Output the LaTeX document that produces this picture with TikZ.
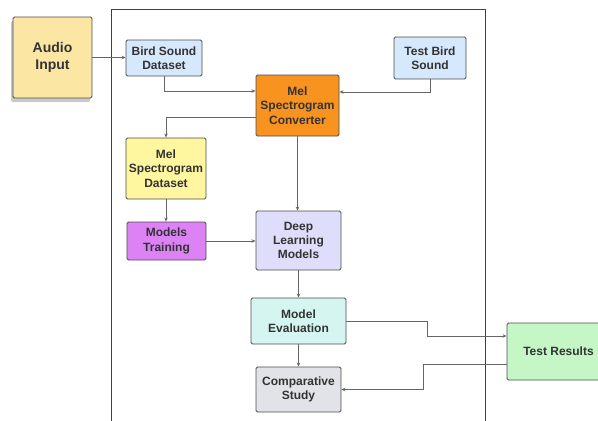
\documentclass[tikz,border=0pt]{standalone}
\usepackage{fontspec}
\setmainfont{Liberation Sans}
\usetikzlibrary{arrows.meta,shadows}
\definecolor{audioC}{HTML}{FBE6A4}
\definecolor{blueC}{HTML}{D6E8FC}
\definecolor{orangeC}{HTML}{F8931F}
\definecolor{yellowC}{HTML}{FFF6A0}
\definecolor{violetC}{HTML}{DC82F5}
\definecolor{lavenderC}{HTML}{DEDEFA}
\definecolor{cyanC}{HTML}{D5F6F0}
\definecolor{greyC}{HTML}{E1E3E8}
\definecolor{greenC}{HTML}{C5F6C6}
\tikzset{
BOX/.style={draw=black!70, fill=#1, line width=0.9pt, rounded corners=1.5pt, align=center, text=black!80, inner sep=0pt, font=\bfseries\fontsize{12}{14.3}\selectfont},
BOX/.default = white,
LINK/.style={draw=black!60, line width=0.8pt, -{Stealth[length=4pt,width=3.5pt]}},
FRAME/.style={draw=black!75, line width=1pt},
}

\begin{document}
\begin{tikzpicture}[x=1pt, y=-1pt] %bird sound pipeline
	\useasboundingbox (0,0) rectangle (598,421);
	\path[FRAME] (111,9) rectangle (485,440);
	\node[BOX=audioC, minimum width=79pt, minimum height=81pt, font=\bfseries\fontsize{14}{17.3}\selectfont, drop shadow={shadow xshift=-2pt, shadow yshift=-4pt, opacity=0.35, fill=black!60}] (audio) at (52.5,57.5) {Audio\\Input};
	\node[BOX=blueC, minimum width=76pt, minimum height=36pt] (birddata) at (164,58) {Bird Sound\\Dataset};
	\node[BOX=blueC, minimum width=72pt, minimum height=42pt] (testbird) at (430,58) {Test Bird\\Sound};
	\node[BOX=orangeC, minimum width=83pt, minimum height=61pt] (converter) at (297.5,105.5) {Mel\\Spectrogram\\Converter};
	\node[BOX=yellowC, minimum width=80pt, minimum height=61pt] (meldata) at (166,168.5) {Mel\\Spectrogram\\Dataset};
	\node[BOX=violetC, minimum width=79pt, minimum height=38pt] (training) at (166.5,241) {Models\\Training};
	\node[BOX=lavenderC, minimum width=85pt, minimum height=59pt] (deep) at (298.5,240.5) {Deep\\Learning\\Models};
	\node[BOX=cyanC, minimum width=95pt, minimum height=46pt] (evaluation) at (298.5,321) {Model\\Evaluation};
	\node[BOX=greyC, minimum width=85pt, minimum height=45pt] (comparative) at (298.5,389.5) {Comparative\\Study};
	\node[BOX=greenC, minimum width=103pt, minimum height=57pt] (results) at (558.5,351.5) {Test Results};
	\path[LINK] (audio.east) -- (audio.east -| birddata.west);
	\path[LINK] (birddata.south) |- ([yshift=14.5pt]converter.west);
	\path[LINK] (testbird.south) |- ([yshift=13.5pt]converter.east);
	\path[LINK] ([yshift=-11.5pt]converter.west) -| (meldata.north);
	\path[LINK] (converter.south) -- (converter.south |- deep.north);
	\path[LINK] (meldata.south) -- (meldata.south |- training.north);
	\path[LINK] (training.east) -- (training.east -| deep.west);
	\path[LINK] (deep.south) -- (deep.south |- evaluation.north);
	\path[LINK] (evaluation.east) -- ++(81,0) |- ([yshift=15.5pt]results.west);
	\path[LINK] ([yshift=-12.5pt]results.west) -- ++(-83,0) |- (comparative.east);
	\path[LINK] (evaluation.south) -- (evaluation.south |- comparative.north);
\end{tikzpicture}
\end{document}
